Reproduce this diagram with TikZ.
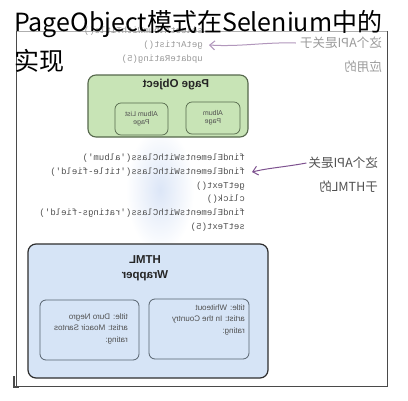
\documentclass[tikz,border=0pt]{standalone}
\usepackage{fontspec}
\usepackage{graphicx}
\setmainfont{Liberation Sans}
\setmonofont{Liberation Mono}
\newfontfamily\cjk{Noto Sans CJK SC}
\usetikzlibrary{arrows.meta}
\definecolor{framec}{HTML}{4A4A4A}
\definecolor{greenfill}{HTML}{C8E4B6}
\definecolor{greenline}{HTML}{56684C}
\definecolor{bluefill}{HTML}{D6E4F6}
\definecolor{blueline}{HTML}{2E2E2E}
\definecolor{innerblue}{HTML}{56626E}
\definecolor{arrowc}{HTML}{7E5290}
\definecolor{codec}{HTML}{505050}
\definecolor{fadec}{HTML}{9A9A9A}
\definecolor{glowc}{HTML}{DCE6F7}
\newcommand{\mir}[1]{\reflectbox{#1}}
\newcommand{\mirlines}[1]{\reflectbox{\begin{tabular}{@{}l@{}}#1\end{tabular}}}
\tikzset{
  codeline/.style={anchor=east, inner sep=0pt, font=\ttfamily\fontsize{9}{11}\selectfont, text=codec},
  fadecode/.style={codeline, text=fadec},
  cjknote/.style={anchor=east, inner sep=0pt, font=\cjk\fontsize{12.5}{14}\selectfont},
  greenbox/.style={draw=greenline, fill=greenfill, line width=1.1pt, rounded corners=8pt},
  greeninner/.style={draw=greenline, fill=greenfill, line width=0.7pt, rounded corners=6pt, align=center, text=codec, font=\fontsize{7}{8.5}\selectfont},
  bluebox/.style={draw=blueline, fill=bluefill, line width=1.2pt, rounded corners=8pt},
  blueinner/.style={draw=innerblue, fill=bluefill, line width=0.8pt, rounded corners=6pt},
  boxtitle/.style={inner sep=0pt, font=\bfseries\fontsize{11.5}{15}\selectfont, text=black!85},
  cardtext/.style={anchor=north east, inner sep=0pt, font=\fontsize{8}{11.5}\selectfont, text=codec},
  pointer/.style={draw=arrowc, line width=1pt, -{Straight Barb[length=5pt,width=9pt]}},
  titletext/.style={inner sep=0pt, font=\cjk\fontsize{25}{30}\selectfont, text=black}
}
\begin{document}
\begin{tikzpicture}[x=1pt,y=-1pt]
\useasboundingbox (0,0) rectangle (408,400);
\fill[white] (0,0) rectangle (408,400);
% outer frame
\draw[framec!45, line width=0.8pt] (16,31) -- (387,31);
\draw[framec, line width=1pt] (16,31) -- (16,386) -- (387,386) -- (387,31);
\draw[framec, line width=1.2pt] (14,376) -- (14,387) -- (19,387);
% faint blue glow behind the code
\shade[inner color=glowc, outer color=white] (160,190) ellipse (34 and 62);
% top code (faded)
\node[fadecode] (t1) at (203,31) {\mir{selectAlbumWithTitle()}};
\node[fadecode] (t2) at (203,45) {\mir{getArtist()}};
\node[fadecode] (t3) at (203,59) {\mir{updateRating(5)}};
% top note
\node[cjknote, text=fadec] (n1) at (382,43) {\mir{这个API是关于}};
\node[cjknote, text=fadec] (n2) at (382,67) {\mir{应用的}};
\draw[pointer, draw=arrowc!60] ([xshift=-4pt]n1.west) .. controls (265,42) and (240,47) .. ([xshift=6pt]t2.east);
% Page Object box
\node[greenbox, minimum width=160pt, minimum height=62pt] (po) at (168,106) {};
\node[boxtitle] (pot) at (176,85) {\mir{Page Object}};
\node[greeninner, minimum width=53pt, minimum height=32pt] (alp) at (141.5,119) {\mir{\begin{tabular}{@{}c@{}}Album List\\Page\end{tabular}}};
\node[greeninner, minimum width=54pt, minimum height=32pt] (ap) at (213,118) {\mir{\begin{tabular}{@{}c@{}}Album\\Page\end{tabular}}};
% middle code
\node[codeline] (c1) at (245,158) {\mir{findElementsWithClass('album')}};
\node[codeline] (c2) at (245,172) {\mir{findElementsWithClass('title-field')}};
\node[codeline] (c3) at (245,186) {\mir{getText()}};
\node[codeline] (c4) at (245,199.5) {\mir{click()}};
\node[codeline] (c5) at (245,213) {\mir{findElementsWithClass('ratings-field')}};
\node[codeline] (c6) at (245,227) {\mir{setText(5)}};
% middle note
\node[cjknote, text=codec] (m1) at (378,163) {\mir{这个API是关}};
\node[cjknote, text=codec] (m2) at (378,187) {\mir{于HTML的}};
\draw[pointer] ([xshift=-2pt]m1.west) .. controls (285,167) and (268,168) .. ([xshift=7pt]c2.east);
% HTML Wrapper box
\node[bluebox, minimum width=240pt, minimum height=134pt] (hw) at (148,311) {};
\node[boxtitle, align=center] (hwt) at (145,268) {\mir{\begin{tabular}{@{}c@{}}HTML\\Wrapper\end{tabular}}};
\node[blueinner, minimum width=99pt, minimum height=60pt] (card1) at (89.5,330) {};
\node[cardtext] (card1t) at (128,311) {\mirlines{title: Duro Negro\\artist: Moacir Santos\\rating:}};
\node[blueinner, minimum width=100pt, minimum height=60pt] (card2) at (199,329) {};
\node[cardtext] (card2t) at (245,302) {\mirlines{title: Whiteout\\artist: In the Country\\rating:}};
% overlaid title
\node[titletext, anchor=base west] (title1) at (14,31) {PageObject模式在Selenium中的};
\node[titletext, anchor=base west] (title2) at (14,70) {实现};
\end{tikzpicture}
\end{document}
